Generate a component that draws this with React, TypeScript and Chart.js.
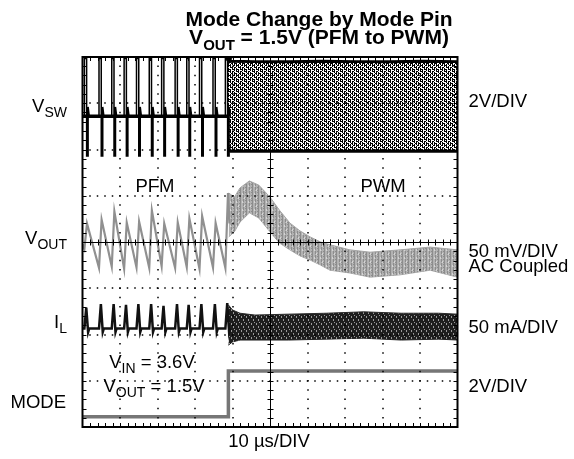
import React, { useEffect, useRef } from "react";
import { Chart, registerables } from "chart.js";
Chart.register(...registerables);

// x: time in µs (10 µs/DIV, 10 divisions), y: screen divisions (0 = bottom, 8 = top)
const pulseTimes = [0.5, 4.4, 7.8, 11.1, 14.4, 17.8, 21.1, 24.7, 27.8, 31.2, 34.8, 38.1];

const vswBase = 6.72;
const vswHigh = 7.97;
const vswLow = 5.86;
const vswBaseT = [0, 38.8];
const vswBandT = [38.8, 39.5, 46, 55, 64, 73, 82, 91, 100];
const vswBandHi = [7.95, 7.91, 7.9, 7.9, 7.91, 7.9, 7.9, 7.91, 7.9];
const vswBandLo = [6.05, 5.96, 5.96, 5.97, 5.96, 5.96, 5.97, 5.96, 5.96];

const voutPeaks = [4.4, 4.48, 4.66, 4.42, 4.44, 4.68, 4.4, 4.42, 4.51, 4.56, 4.41, 5.06];
const voutTroughs = [3.85, 3.44, 3.47, 3.42, 3.45, 3.44, 3.48, 3.44, 3.46, 3.42, 3.45, 3.44];
const voutBandT = [39.0, 40.5, 42.0, 44.5, 47.0, 50.0, 52.5, 55.3, 58.0, 60.7, 63.5, 66.0, 71.3, 76.7, 84.7, 92.7, 100];
const voutBandHi = [5.06, 4.97, 5.17, 5.32, 5.23, 4.97, 4.69, 4.41, 4.24, 4.11, 4.0, 3.94, 3.83, 3.78, 3.83, 3.89, 3.83];
const voutBandLo = [4.11, 4.22, 4.43, 4.63, 4.52, 4.22, 3.98, 3.83, 3.7, 3.61, 3.5, 3.39, 3.33, 3.24, 3.29, 3.39, 3.24];

const ilBase = 2.13;
const ilPeaks = [2.58, 2.66, 2.66, 2.64, 2.66, 2.66, 2.62, 2.66, 2.64, 2.66, 2.66, 2.68];
const ilBandT = [38.9, 40, 42, 46, 55, 65, 75, 85, 95, 100];
const ilBandHi = [2.64, 2.53, 2.46, 2.42, 2.44, 2.46, 2.49, 2.46, 2.46, 2.44];
const ilBandLo = [1.77, 1.84, 1.88, 1.88, 1.88, 1.9, 1.92, 1.88, 1.9, 1.88];

const modeT = [0, 38.9, 38.9, 100];
const modeV = [0.22, 0.22, 1.21, 1.21];

const triggerT = [39.0];
const triggerV = [7.93];

const FONT = "'Liberation Sans', Arial, Helvetica, sans-serif";

type Pt = { x: number; y: number };
const zip = (t: number[], v: number[]): Pt[] => t.map((x, i) => ({ x, y: v[i] }));

function buildVsw(): Pt[] {
  const pts: Pt[] = [{ x: 0, y: vswBase }];
  pulseTimes.forEach((t) => {
    pts.push(
      { x: t, y: vswBase },
      { x: t, y: vswHigh },
      { x: t + 0.6, y: vswHigh },
      { x: t + 0.6, y: vswLow },
      { x: t + 1.0, y: vswLow },
      { x: t + 1.0, y: vswBase + 0.2 },
      { x: t + 1.3, y: vswBase }
    );
  });
  return pts;
}

function buildVout(): Pt[] {
  const pts: Pt[] = [{ x: 0, y: 3.95 }];
  pulseTimes.forEach((t, i) => {
    pts.push({ x: t, y: voutTroughs[i] }, { x: t + 0.7, y: voutPeaks[i] });
  });
  pts.push({ x: 39.2, y: 4.4 });
  return pts;
}

function buildIl(): Pt[] {
  const pts: Pt[] = [{ x: 0, y: ilBase }];
  pulseTimes.forEach((t, i) => {
    pts.push(
      { x: t, y: ilBase },
      { x: t + 0.5, y: ilPeaks[i] },
      { x: t + 1.0, y: ilBase - 0.08 },
      { x: t + 1.3, y: ilBase }
    );
  });
  return pts;
}

function makePattern(w: number, h: number, draw: (c: CanvasRenderingContext2D) => void): CanvasPattern | string {
  const cv = document.createElement("canvas");
  cv.width = w;
  cv.height = h;
  const c = cv.getContext("2d");
  if (!c) return "#888";
  draw(c);
  const p = c.createPattern(cv, "repeat");
  return p || "#888";
}

function drawParts(
  ctx: CanvasRenderingContext2D,
  parts: [string, boolean][],
  x: number,
  y: number,
  size: number,
  subSize: number,
  align: "left" | "right" | "center",
  bold = false
) {
  const w = bold ? "bold " : "";
  let total = 0;
  parts.forEach(([t, sub]) => {
    ctx.font = `${w}${sub ? subSize : size}px ${FONT}`;
    total += ctx.measureText(t).width;
  });
  let cx = align === "left" ? x : align === "right" ? x - total : x - total / 2;
  ctx.textAlign = "left";
  ctx.textBaseline = "alphabetic";
  parts.forEach(([t, sub]) => {
    ctx.font = `${w}${sub ? subSize : size}px ${FONT}`;
    ctx.fillText(t, cx, sub ? y + subSize * 0.38 : y);
    cx += ctx.measureText(t).width;
  });
}

const scopePlugin = {
  id: "scopePlugin",
  afterDatasetsDraw(chart: any) {
    const { ctx, chartArea: a, scales } = chart;
    const xs = scales.x;
    const ys = scales.y;
    ctx.save();
    ctx.fillStyle = "#000";
    for (let d = 1; d < 10; d++) {
      if (d === 5) continue;
      const px = Math.round(xs.getPixelForValue(d * 10));
      for (let m = 1; m < 40; m++) {
        const py = ys.getPixelForValue(m * 0.2);
        ctx.fillRect(px - 0.75, py - 0.75, 1.5, 1.5);
      }
    }
    for (let d = 1; d < 8; d++) {
      if (d === 4) continue;
      const py = Math.round(ys.getPixelForValue(d));
      for (let m = 1; m < 50; m++) {
        const px = xs.getPixelForValue(m * 2);
        ctx.fillRect(px - 0.75, py - 0.75, 1.5, 1.5);
      }
    }
    const cx = Math.round(xs.getPixelForValue(50)) + 0.5;
    const cy = Math.round(ys.getPixelForValue(4)) + 0.5;
    ctx.strokeStyle = "#000";
    ctx.lineWidth = 1;
    ctx.beginPath();
    ctx.moveTo(cx, a.top);
    ctx.lineTo(cx, a.bottom);
    ctx.moveTo(a.left, cy);
    ctx.lineTo(a.right, cy);
    for (let m = 1; m < 40; m++) {
      const py = Math.round(ys.getPixelForValue(m * 0.2)) + 0.5;
      ctx.moveTo(cx - 3, py);
      ctx.lineTo(cx + 3, py);
      ctx.moveTo(a.left, py);
      ctx.lineTo(a.left + 4, py);
      ctx.moveTo(a.right, py);
      ctx.lineTo(a.right - 4, py);
    }
    for (let m = 1; m < 50; m++) {
      const px = Math.round(xs.getPixelForValue(m * 2)) + 0.5;
      ctx.moveTo(px, cy - 3);
      ctx.lineTo(px, cy + 3);
      ctx.moveTo(px, a.bottom);
      ctx.lineTo(px, a.bottom - 4);
      ctx.moveTo(px, a.top);
      ctx.lineTo(px, a.top + 4);
    }
    ctx.stroke();
    ctx.lineWidth = 2;
    ctx.strokeRect(a.left, a.top, a.right - a.left, a.bottom - a.top);
    ctx.restore();
  },
  afterDraw(chart: any) {
    const { ctx, chartArea: a } = chart;
    ctx.save();
    ctx.fillStyle = "#000";
    ctx.font = `bold 21px ${FONT}`;
    ctx.textAlign = "center";
    ctx.textBaseline = "alphabetic";
    ctx.fillText("Mode Change by Mode Pin", 319, 26);
    drawParts(ctx, [["V", false], ["OUT", true], [" = 1.5V (PFM to PWM)", false]], 319, 44, 21, 15, "center", true);
    const L = 67;
    drawParts(ctx, [["V", false], ["SW", true]], L, 112, 18.5, 14, "right");
    drawParts(ctx, [["V", false], ["OUT", true]], L, 244, 18.5, 14, "right");
    drawParts(ctx, [["I", false], ["L", true]], L, 328, 18.5, 14, "right");
    drawParts(ctx, [["MODE", false]], 66, 408, 18.5, 14, "right");
    const R = a.right + 11;
    drawParts(ctx, [["2V/DIV", false]], R, 107, 18.5, 14, "left");
    drawParts(ctx, [["50 mV/DIV", false]], R, 257, 18.5, 14, "left");
    drawParts(ctx, [["AC Coupled", false]], R, 272, 18.5, 14, "left");
    drawParts(ctx, [["50 mA/DIV", false]], R, 333, 18.5, 14, "left");
    drawParts(ctx, [["2V/DIV", false]], R, 392, 18.5, 14, "left");
    drawParts(ctx, [["PFM", false]], 155, 192, 18.5, 14, "center");
    drawParts(ctx, [["PWM", false]], 383, 192, 18.5, 14, "center");
    drawParts(ctx, [["V", false], ["IN", true], [" = 3.6V", false]], 152, 368, 18.5, 14, "center");
    drawParts(ctx, [["V", false], ["OUT", true], [" = 1.5V", false]], 154, 392, 18.5, 14, "center");
    drawParts(ctx, [["10 \u00b5s/DIV", false]], 269, 447, 18.5, 14, "center");
    ctx.restore();
  },
};

export default function App() {
  const ref = useRef<HTMLCanvasElement | null>(null);
  useEffect(() => {
    const canvas = ref.current;
    if (!canvas) return;
    const vswPat = makePattern(8, 10, (c) => {
      c.fillStyle = "#000";
      for (let i = 0; i < 8; i++)
        for (let j = 0; j < 10; j++) {
          const on = i % 2 === 0 ? (j * 3 + i) % 5 !== 0 : (i * 5 + j * 7) % 4 === 0;
          if (on) c.fillRect(i, j, 1, 1);
        }
    });
    const voutPat = makePattern(6, 8, (c) => {
      c.fillStyle = "#b2b2b2";
      c.fillRect(0, 0, 6, 8);
      c.fillStyle = "#8c8c8c";
      for (let j = 0; j < 8; j++) {
        c.fillRect(0, j, 1, 1);
        if (j % 4 !== 2) c.fillRect(3, j, 1, 1);
        if (j % 3 === 0) c.fillRect(5, j, 1, 1);
      }
      c.fillStyle = "#d4d4d4";
      c.fillRect(2, 1, 1, 2);
      c.fillRect(4, 5, 1, 2);
    });
    const ilPat = makePattern(5, 7, (c) => {
      c.fillStyle = "#1e1e1e";
      c.fillRect(0, 0, 5, 7);
      c.fillStyle = "#9a9a9a";
      c.fillRect(1, 1, 1, 2);
      c.fillRect(3, 4, 1, 2);
      c.fillRect(4, 0, 1, 1);
    });

    const line = (data: Pt[], color: string, width: number, extra: any = {}) => ({
      type: "line",
      data,
      borderColor: color,
      borderWidth: width,
      pointRadius: 0,
      tension: 0,
      fill: false,
      ...extra,
    });

    const chart = new Chart(canvas, {
      type: "line",
      data: {
        datasets: [
          line(zip(triggerT, triggerV), "#000", 1, {
            type: "scatter",
            pointRadius: 3.5,
            pointStyle: "triangle",
            rotation: 180,
            backgroundColor: "#000",
            showLine: false,
          }),
          line(buildVsw(), "#000", 1.5),
          line(zip(vswBaseT, [vswBase, vswBase]), "#000", 3.5),
          line(zip(vswBandT, vswBandHi), "#000", 3, { fill: "+1", backgroundColor: vswPat }),
          line(zip(vswBandT, vswBandLo), "#000", 3),
          line(buildIl(), "#111", 2.5),
          line(zip(ilBandT, ilBandHi), "#2a2a2a", 1, { fill: "+1", backgroundColor: ilPat }),
          line(zip(ilBandT, ilBandLo), "#2a2a2a", 1),
          line(buildVout(), "#909090", 2.2),
          line(zip(voutBandT, voutBandHi), "#a6a6a6", 1, { fill: "+1", backgroundColor: voutPat }),
          line(zip(voutBandT, voutBandLo), "#a6a6a6", 1),
          line(zip(modeT, modeV), "#767676", 3.5),
        ] as any,
      },
      options: {
        animation: false,
        responsive: false,
        maintainAspectRatio: false,
        events: [],
        layout: { padding: { left: 82.5, right: 116.5, top: 57, bottom: 32 } },
        plugins: {
          legend: { display: false },
          tooltip: { enabled: false },
          title: { display: false },
        },
        scales: {
          x: { type: "linear", min: 0, max: 100, display: false },
          y: { type: "linear", min: 0, max: 8, display: false },
        },
      },
      plugins: [scopePlugin as any],
    });
    return () => chart.destroy();
  }, []);

  return (
    <div style={{ position: "absolute", left: 0, top: 0, width: 574, height: 459, background: "#fff" }}>
      <canvas ref={ref} width={574} height={459} style={{ display: "block" }} />
    </div>
  );
}
